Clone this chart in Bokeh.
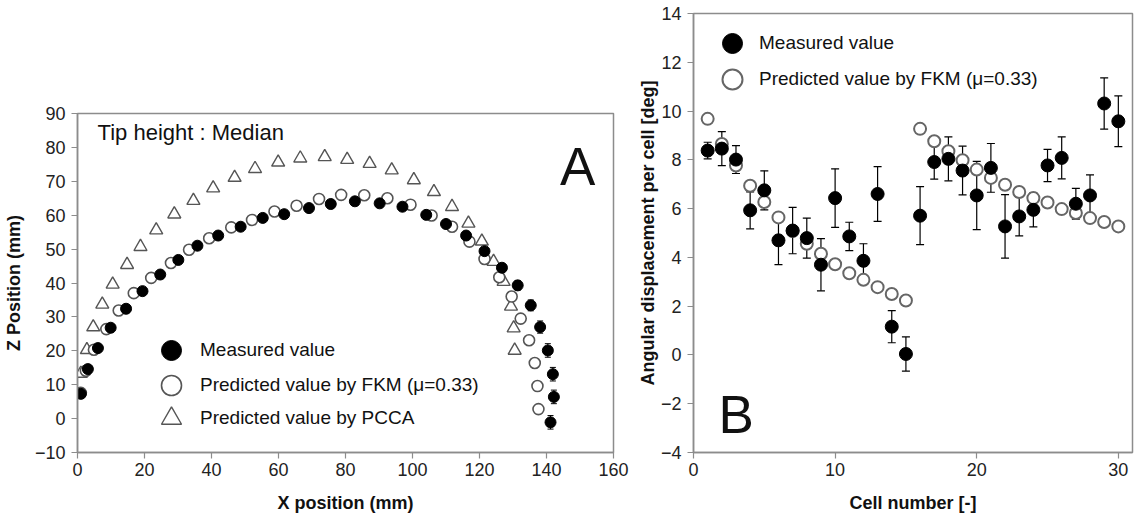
from bokeh.plotting import figure
from bokeh.models import (ColumnDataSource, Range1d, Whisker, TeeHead, Legend,
                          LegendItem, Label, FixedTicker)
from bokeh.embed import file_html
from bokeh.resources import INLINE

FONT = "Liberation Sans"

# ---------------- Panel A data ----------------
meas_x = [1.0, 3.1, 6.1, 9.9, 14.5, 19.4, 24.7, 30.1, 35.8, 42.0, 48.7, 55.3, 61.7, 69.1, 75.6,
          82.8, 90.2, 97.0, 104.1, 110.0, 116.0, 121.5, 126.7, 131.4, 135.3, 138.1, 140.4,
          141.9, 142.2, 141.2]
meas_z = [7.3, 14.6, 20.8, 26.8, 32.4, 37.6, 42.5, 46.8, 51.0, 54.0, 56.6, 59.2, 60.3, 62.1, 63.3,
          64.1, 63.5, 62.5, 60.1, 57.4, 54.0, 49.4, 44.5, 39.3, 33.4, 27.0, 20.1, 13.1, 6.4, -1.1]
meas_z_err = [0.8, 0.8, 0.8, 0.8, 0.8, 0.8, 0.8, 0.8, 0.8, 0.8, 0.8, 0.8, 0.8, 0.8, 0.8,
              0.8, 0.8, 0.8, 0.8, 0.8, 0.8, 1.0, 1.2, 1.4, 1.6, 1.8, 2.0, 2.0, 2.0, 2.0]
fkm_x = [1.0, 2.5, 4.9, 8.6, 12.3, 16.8, 22.0, 27.9, 33.3, 39.3, 45.9, 52.1, 58.8, 65.4, 72.1,
         78.7, 85.6, 92.5, 99.4, 105.7, 111.8, 117.0, 121.5, 125.9, 129.6, 132.3, 134.8,
         136.5, 137.3, 137.6]
fkm_z = [7.6, 14.1, 20.3, 26.4, 31.9, 37.0, 41.5, 45.9, 49.8, 53.2, 56.4, 58.6, 61.1, 62.8, 64.8,
         66.0, 65.9, 65.0, 63.1, 59.9, 56.6, 52.2, 47.1, 41.7, 36.0, 29.5, 23.1, 16.4, 9.6, 2.8]
pcca_x = [1.0, 2.8, 4.7, 7.4, 10.5, 14.8, 18.8, 23.5, 28.9, 34.6, 40.5, 46.9, 53.0, 59.9, 66.5,
          73.8, 80.5, 87.2, 93.8, 100.4, 106.4, 111.8, 116.7, 120.7, 124.2, 127.2, 129.4,
          130.2, 130.5]
pcca_z = [13.3, 20.3, 27.0, 33.7, 39.6, 45.4, 50.7, 55.6, 60.3, 64.3, 68.0, 71.1, 73.7, 75.6, 76.8,
          77.2, 76.4, 75.2, 73.3, 70.4, 66.9, 62.5, 57.6, 52.3, 46.3, 40.4, 33.1, 26.7, 20.1]
a_xticks = [0, 20, 40, 60, 80, 100, 120, 140, 160]
a_yticks = [-10, 0, 10, 20, 30, 40, 50, 60, 70, 80, 90]

# ---------------- Panel B data ----------------
cell = [1, 2, 3, 4, 5, 6, 7, 8, 9, 10, 11, 12, 13, 14, 15,
        16, 17, 18, 19, 20, 21, 22, 23, 24, 25, 26, 27, 28, 29, 30]
ang_meas = [8.38, 8.46, 8.01, 5.93, 6.75, 4.70, 5.10, 4.79, 3.70, 6.43, 4.86, 3.86, 6.60, 1.16, 0.04,
            5.71, 7.91, 8.04, 7.56, 6.54, 7.67, 5.27, 5.68, 5.95, 7.77, 8.08, 6.20, 6.54, 10.31, 9.58]
ang_err = [0.34, 0.70, 0.57, 0.76, 0.80, 1.00, 0.95, 0.82, 1.07, 1.20, 0.58, 0.70, 1.12, 0.66, 0.70,
           1.19, 0.70, 0.90, 1.00, 1.40, 1.00, 1.30, 0.80, 0.70, 0.66, 0.86, 0.63, 0.84, 1.05, 1.04]
ang_fkm = [9.68, 8.65, 7.77, 6.94, 6.27, 5.64, 5.08, 4.56, 4.15, 3.72, 3.35, 3.08, 2.78, 2.50, 2.23,
           9.27, 8.76, 8.35, 7.98, 7.60, 7.26, 6.98, 6.68, 6.43, 6.25, 5.98, 5.82, 5.61, 5.45, 5.27]
b_xticks = [0, 10, 20, 30]
b_yticks = [-4, -2, 0, 2, 4, 6, 8, 10, 12, 14]


def style(p):
    p.grid.visible = False
    p.outline_line_color = "#8c8c8c"
    p.outline_line_width = 1.5
    p.background_fill_color = "white"
    p.border_fill_color = "white"
    for ax in p.axis:
        ax.axis_line_color = "#8c8c8c"
        ax.axis_line_width = 1.5
        ax.major_tick_line_color = "#8c8c8c"
        ax.major_tick_line_width = 1.2
        ax.major_tick_out = 6
        ax.major_tick_in = 0
        ax.minor_tick_line_color = None
        ax.major_label_text_font = FONT
        ax.major_label_text_font_size = "18px"
        ax.major_label_text_color = "#222222"
        ax.axis_label_text_font = FONT
        ax.axis_label_text_font_size = "18px"
        ax.axis_label_text_font_style = "bold"
        ax.axis_label_text_color = "#111111"
    p.xaxis.major_label_standoff = 4
    p.xaxis.axis_label_standoff = 14
    p.yaxis.major_label_standoff = 6


def one_item_legend(label, renderer, loc, standoff):
    # one legend per entry so that each legend symbol can be drawn at full size
    return Legend(items=[LegendItem(label=label, renderers=[renderer])], location=loc,
                  orientation="vertical", glyph_width=50, glyph_height=50, label_height=50,
                  spacing=0, padding=0, margin=0, label_standoff=standoff,
                  border_line_color=None, background_fill_alpha=0,
                  label_text_font=FONT, label_text_font_size="19px",
                  label_text_color="#111111")


# ================= Panel A =================
pA = figure(width=630, height=523, x_range=Range1d(0, 160), y_range=Range1d(-10, 90),
            output_backend="svg", toolbar_location=None,
            min_border_left=72, min_border_right=17, min_border_top=113, min_border_bottom=71,
            x_axis_label="X position (mm)", y_axis_label="Z Position (mm)")
pA.xaxis.ticker = FixedTicker(ticks=a_xticks)
pA.yaxis.ticker = FixedTicker(ticks=a_yticks)
style(pA)
pA.yaxis.axis_label_standoff = 8

srcA = ColumnDataSource(dict(x=meas_x, z=meas_z,
                             lo=[z - e for z, e in zip(meas_z, meas_z_err)],
                             up=[z + e for z, e in zip(meas_z, meas_z_err)]))
wA = Whisker(source=srcA, base="x", lower="lo", upper="up", dimension="height",
             line_color="black", line_width=1,
             lower_head=TeeHead(size=6, line_color="black", line_width=1),
             upper_head=TeeHead(size=6, line_color="black", line_width=1))
pA.add_layout(wA)

r_pcca = pA.scatter(pcca_x, pcca_z, marker="triangle", size=13, fill_color="white",
                    line_color="#555555", line_width=1.4)
r_fkmA = pA.scatter(fkm_x, fkm_z, marker="circle", size=11, fill_color="white",
                    line_color="#555555", line_width=1.6)
r_measA = pA.scatter("x", "z", source=srcA, marker="circle", size=11, fill_color="black",
                     line_color="black")

pA.add_layout(one_item_legend("Measured value", r_measA, (69, 77), 4))
pA.add_layout(one_item_legend("Predicted value by FKM (\u03bc=0.33)", r_fkmA, (69, 42), 4))
pA.add_layout(one_item_legend("Predicted value by PCCA", r_pcca, (69, 9), 4))

pA.add_layout(Label(x=6.0, y=84.3, text="Tip height : Median", text_font=FONT,
                    text_font_size="22px", text_color="#111111", text_baseline="alphabetic"))
pA.add_layout(Label(x=144.0, y=74.3, text="A", text_font=FONT,
                    text_font_size="53px", text_color="#111111", text_baseline="alphabetic"))

# ================= Panel B =================
pB = figure(width=506, height=523, x_range=Range1d(0, 31), y_range=Range1d(-4, 14),
            output_backend="svg", toolbar_location=None,
            min_border_left=63, min_border_right=4, min_border_top=13, min_border_bottom=71,
            x_axis_label="Cell number [-]", y_axis_label="Angular displacement per cell [deg]")
pB.xaxis.ticker = FixedTicker(ticks=b_xticks)
pB.yaxis.ticker = FixedTicker(ticks=b_yticks)
style(pB)
pB.yaxis.axis_label_standoff = 0
pB.styles = {"position": "absolute", "left": "630px", "top": "0px"}

srcB = ColumnDataSource(dict(c=cell, m=ang_meas, f=ang_fkm,
                             lo=[m - e for m, e in zip(ang_meas, ang_err)],
                             up=[m + e for m, e in zip(ang_meas, ang_err)]))
wB = Whisker(source=srcB, base="c", lower="lo", upper="up", dimension="height",
             line_color="black", line_width=1.2,
             lower_head=TeeHead(size=8, line_color="black", line_width=1.2),
             upper_head=TeeHead(size=8, line_color="black", line_width=1.2))
pB.add_layout(wB)

r_fkmB = pB.scatter("c", "f", source=srcB, marker="circle", size=12, fill_color="white",
                    line_color="#666666", line_width=2)
r_measB = pB.scatter("c", "m", source=srcB, marker="circle", size=13, fill_color="black",
                     line_color="black")

pB.add_layout(one_item_legend("Measured value", r_measB, (14, 384), 2))
pB.add_layout(one_item_legend("Predicted value by FKM (\u03bc=0.33)", r_fkmB, (14, 348), 2))

pB.add_layout(Label(x=1.77, y=-2.46, text="B", text_font=FONT,
                    text_font_size="53px", text_color="#111111", text_baseline="alphabetic"))

open("out.html", "w").write(file_html([pA, pB], INLINE))
